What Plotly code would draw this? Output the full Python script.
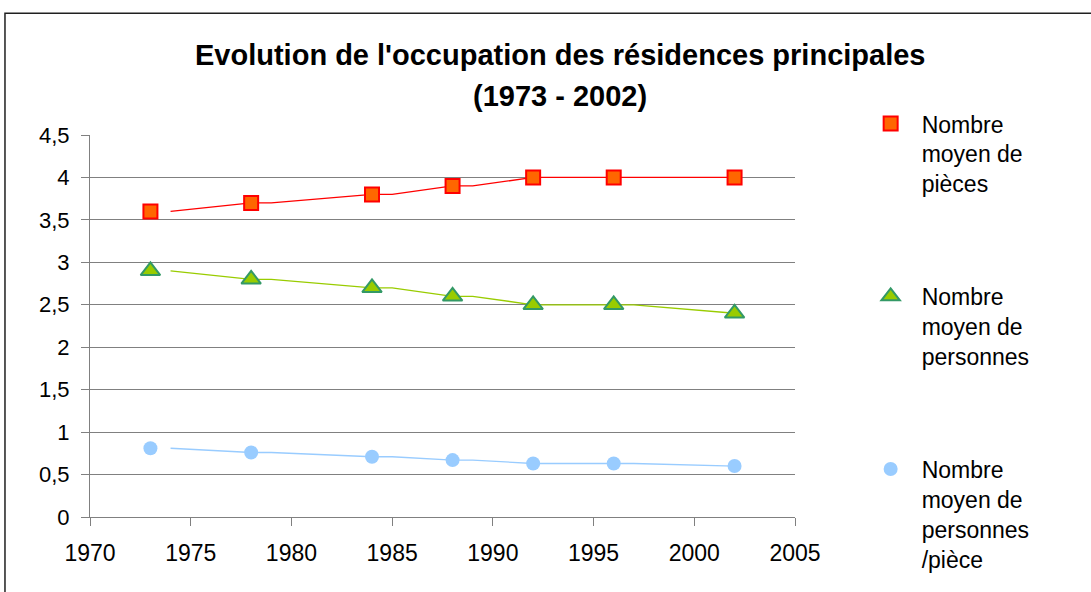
import plotly.graph_objects as go

years = [1973, 1978, 1984, 1988, 1992, 1996, 2002]
pieces = [3.6, 3.7, 3.8, 3.9, 4.0, 4.0, 4.0]
personnes = [2.9, 2.8, 2.7, 2.6, 2.5, 2.5, 2.4]
pers_par_piece = [0.81, 0.76, 0.71, 0.67, 0.63, 0.63, 0.6]

names = ["Nombre<br>moyen de<br>pièces",
         "Nombre<br>moyen de<br>personnes",
         "Nombre<br>moyen de<br>personnes<br>/pièce"]

y_tickvals = [0, 0.5, 1, 1.5, 2, 2.5, 3, 3.5, 4, 4.5]
y_ticktext = ["0", "0,5", "1", "1,5", "2", "2,5", "3", "3,5", "4", "4,5"]
x_tickvals = [1970, 1975, 1980, 1985, 1990, 1995, 2000, 2005]

LINE_OFFSET = 1.0  # the original draws each line segment shifted by about one year


def offset_line(xs, ys, off):
    lx, ly = [xs[0] + off], [ys[0]]
    for i in range(1, len(xs)):
        lx.append(xs[i]); ly.append(ys[i])
        if i < len(xs) - 1:
            lx.append(xs[i] + off); ly.append(ys[i])
    return lx, ly


series = [
    (pieces, names[0], "#FF0000", dict(symbol="square", size=14, color="#FF6600",
                                        line=dict(color="#FF0000", width=2))),
    (personnes, names[1], "#99CC00", dict(symbol="triangle-up", size=17, color="#99CC00",
                                           line=dict(color="#339966", width=2))),
    (pers_par_piece, names[2], "#99CCFF", dict(symbol="circle", size=14, color="#99CCFF")),
]

fig = go.Figure()
for i, (vals, name, lcol, mk) in enumerate(series):
    lx, ly = offset_line(years, vals, LINE_OFFSET)
    fig.add_trace(go.Scatter(x=lx, y=ly, mode="lines", line=dict(color=lcol, width=1.3),
                             showlegend=False, hoverinfo="skip"))
    fig.add_trace(go.Scatter(x=years, y=vals, mode="markers", marker=mk, name=name,
                             legendgroup="g%d" % i))

font = "Liberation Sans, Arial, sans-serif"
fig.update_layout(
    width=1091, height=592,
    margin=dict(l=90, r=296, t=135, b=75),
    paper_bgcolor="white", plot_bgcolor="white",
    font=dict(family=font, color="black"),
    xaxis=dict(range=[1970, 2005], tickvals=x_tickvals, showgrid=False, zeroline=False,
               showline=True, linecolor="#808080", linewidth=1,
               ticks="outside", ticklen=8, tickcolor="#808080", ticklabelstandoff=7,
               tickfont=dict(size=23, family=font)),
    yaxis=dict(range=[0, 4.5], tickvals=y_tickvals, ticktext=y_ticktext,
               showgrid=True, gridcolor="#808080", gridwidth=1, zeroline=False,
               showline=True, linecolor="#808080", linewidth=1,
               ticks="outside", ticklen=8, tickcolor="#808080", ticklabelstandoff=7,
               tickfont=dict(size=22, family=font)),
    showlegend=True,
    legend=dict(x=1.0917, y=1.086, xanchor="left", yanchor="top", valign="top",
                font=dict(size=23, family=font), tracegroupgap=80,
                bgcolor="rgba(0,0,0,0)", itemwidth=52, maxheight=1.0),
    shapes=[dict(type="rect", xref="paper", yref="paper",
                 x0=-0.1206, x1=1.43, y0=-0.25, y1=1.319,
                 line=dict(color="#202020", width=1.5))],
    annotations=[
        dict(text="<b>Evolution de l'occupation des résidences principales</b>",
             xref="paper", yref="paper", x=0.6667, y=1.2094, xanchor="center",
             yanchor="middle", showarrow=False, font=dict(size=29, family=font)),
        dict(text="<b>(1973 - 2002)</b>",
             xref="paper", yref="paper", x=0.6667, y=1.102, xanchor="center",
             yanchor="middle", showarrow=False, font=dict(size=29, family=font)),
    ],
)

fig.write_html("out.html", config={"displayModeBar": False},
               post_script="document.body.style.margin='0';")
